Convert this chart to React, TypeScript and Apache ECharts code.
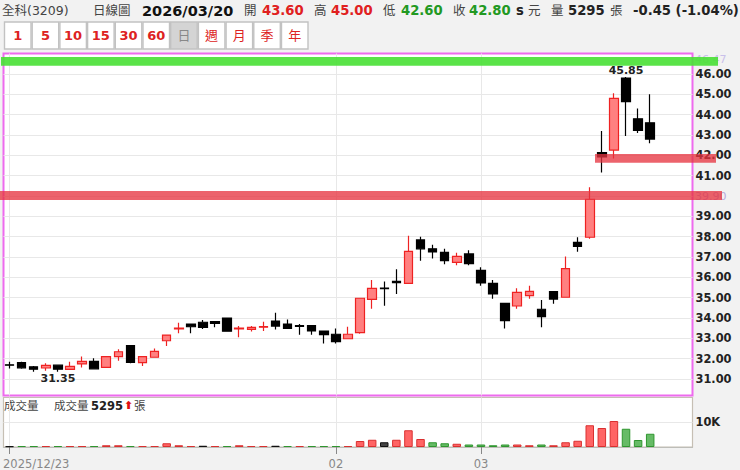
import React, { useEffect, useRef } from "react";
import * as echarts from "echarts";

// trading days, last three slots are the empty room on the right of the chart
const days = [
  "2025/12/23", "12/24", "12/25", "12/26", "12/29", "12/30", "12/31", "01/02", "01/05", "01/06",
  "01/07", "01/08", "01/09", "01/12", "01/13", "01/14", "01/15", "01/16", "01/19", "01/20",
  "01/21", "01/22", "01/23", "01/26", "01/27", "01/28", "01/29", "02", "02/03", "02/04",
  "02/05", "02/06", "02/09", "02/10", "02/11", "02/23", "02/24", "02/25", "02/26", "03",
  "03/03", "03/04", "03/05", "03/06", "03/09", "03/10", "03/11", "03/12", "03/13", "03/16",
  "03/17", "03/18", "03/19", "03/20", "", "", "",
];
const opens = [
  31.7, 31.8, 31.6, 31.54, 31.68, 31.47, 31.74, 31.87, 31.57, 32.1,
  32.64, 31.8, 32.07, 32.88, 33.46, 33.7, 33.79, 33.82, 34.0, 33.46,
  33.44, 33.55, 33.85, 33.7, 33.62, 33.62, 33.36, 33.2, 32.98, 33.28,
  34.92, 35.47, 35.8, 35.7, 37.84, 37.4, 37.23, 36.74, 37.15, 36.34,
  35.7, 34.72, 34.59, 35.1, 34.43, 35.3, 35.02, 37.72, 37.97, 42.13,
  42.26, 45.8, 43.8, 43.6,
];
const closes = [
  31.68, 31.55, 31.48, 31.67, 31.48, 31.62, 31.87, 31.5, 32.1, 32.34,
  31.82, 32.1, 32.36, 33.16, 33.5, 33.57, 33.54, 33.74, 33.35, 33.5,
  33.54, 33.58, 33.6, 33.49, 33.59, 33.36, 33.18, 32.84, 33.2, 34.97,
  35.46, 35.44, 35.74, 37.28, 37.4, 37.25, 36.82, 37.03, 36.67, 35.72,
  35.18, 33.87, 35.26, 35.31, 34.07, 34.93, 36.43, 37.52, 39.84, 41.92,
  44.8, 44.64, 43.23, 42.8,
];
const lows = [
  31.52, 31.5, 31.36, 31.41, 31.35, 31.47, 31.56, 31.48, 31.55, 31.9,
  31.78, 31.64, 32.07, 32.62, 33.25, 33.25, 33.46, 33.54, 33.33, 33.05,
  33.33, 33.36, 33.44, 33.49, 33.18, 33.18, 32.75, 32.74, 32.98, 33.23,
  34.46, 34.6, 35.18, 35.7, 36.82, 36.93, 36.64, 36.6, 36.59, 35.59,
  34.95, 33.48, 34.46, 34.95, 33.54, 34.7, 35.02, 37.26, 37.9, 41.15,
  41.84, 42.95, 43.1, 42.6,
];
const highs = [
  31.85, 31.85, 31.64, 31.77, 31.68, 31.85, 32.1, 32.02, 32.1, 32.46,
  32.64, 32.12, 32.5, 33.18, 33.77, 33.72, 33.9, 33.82, 34.0, 33.6,
  33.6, 33.82, 34.26, 33.93, 33.7, 33.62, 33.36, 33.48, 33.57, 34.97,
  35.87, 35.8, 36.4, 38.05, 38.0, 37.6, 37.4, 37.21, 37.33, 36.49,
  35.87, 34.75, 35.46, 35.59, 34.89, 35.33, 37.02, 37.97, 40.43, 43.2,
  45.05, 45.85, 44.3, 45.0,
];
const volumes = [
  300, 400, 400, 400, 400, 400, 400, 400, 700, 700,
  400, 400, 400, 1500, 700, 400, 500, 400, 400, 700,
  400, 400, 500, 400, 400, 400, 400, 400, 400, 2400,
  2900, 1900, 2900, 6700, 3200, 1900, 1500, 1300, 1000, 1000,
  700, 1000, 1000, 700, 1000, 700, 1900, 2500, 8700, 7600,
  10400, 7300, 2800, 5295,
];
// r = up, g = down, k = flat, as coloured in the volume panel
const volumeTones = [
  "k", "g", "g", "r", "g", "r", "r", "g", "r", "r",
  "g", "r", "r", "r", "r", "r", "k", "r", "g", "r",
  "r", "r", "k", "g", "r", "g", "g", "g", "r", "r",
  "r", "k", "r", "r", "r", "g", "g", "r", "g", "g",
  "g", "g", "r", "r", "g", "r", "r", "r", "r", "r",
  "r", "g", "g", "g",
];
const toneFill: Record<string, string> = { r: "#ff6464", g: "#66bb66", k: "#444444" };
const toneEdge: Record<string, string> = { r: "#d93030", g: "#2f962f", k: "#111111" };

const priceTicks = [31, 32, 33, 34, 35, 36, 37, 38, 39, 40, 41, 42, 43, 44, 45, 46];
const volumeTicks = [10000];
const markedDays = [0, 27, 39];

// horizontal zones: [top price, bottom price]
const zones = [
  [46.84, 46.4],
  [40.25, 39.8],
  [42.07, 41.64],
];
const zoneColors = ["rgba(72,224,52,0.9)", "rgba(230,50,62,0.76)", "rgba(230,50,62,0.76)"];
const zoneEnds = [[1, 718], [0, 722], [595, 716]];

const headerTexts: Array<[string, number, string, boolean]> = [
  ["全科(3209)", 2, "#444", false],
  ["日線圖", 93, "#444", false],
  ["2026/03/20", 142, "#111", true],
  ["開", 244, "#444", false],
  ["43.60", 262, "#e02020", true],
  ["高", 314, "#444", false],
  ["45.00", 331, "#e02020", true],
  ["低", 383, "#444", false],
  ["42.60", 401, "#229922", true],
  ["收", 453, "#444", false],
  ["42.80", 469, "#229922", true],
  ["s", 516, "#222", true],
  ["元", 528, "#444", false],
  ["量", 551, "#444", false],
  ["5295", 568, "#222", true],
  ["張", 610, "#444", false],
  ["-0.45 (-1.04%)", 633, "#222", true],
];
const buttons = ["1", "5", "10", "15", "30", "60", "日", "週", "月", "季", "年"];

const FONT = '"DejaVu Sans", "Noto Sans CJK TC", sans-serif';

const txt = (text: string, x: number, y: number, size: number, fill: string, bold = false, align = "left") => ({
  type: "text",
  x,
  y,
  silent: true,
  style: {
    text,
    fill,
    align,
    verticalAlign: "middle",
    fontFamily: FONT,
    fontSize: size,
    fontWeight: bold ? "bold" : "normal",
  },
});

const buttonGraphics = () =>
  buttons.flatMap((b, i) => {
    const x = 4.5 + i * 27.7;
    const active = b === "日";
    const isDigit = /\d/.test(b);
    return [
      {
        type: "rect",
        silent: true,
        shape: { x, y: 22, width: 26.5, height: 27 },
        style: { fill: active ? "#d4d4d4" : "#fff", stroke: "#c2c2c2", lineWidth: 1.4 },
      },
      txt(b, x + 13.2, 35.5, 13, active ? "#888" : "#dd2222", isDigit, "center"),
    ];
  });

const App: React.FC = () => {
  const chartRef = useRef<HTMLDivElement | null>(null);

  useEffect(() => {
    if (!chartRef.current) return;
    const chart = echarts.init(chartRef.current, undefined, { renderer: "svg" });
    chart.setOption({
      animation: false,
      backgroundColor: "#f2f2f2",
      grid: [
        {
          left: 3.5,
          width: 689,
          top: 53.5,
          height: 342,
          show: true,
          backgroundColor: "#fff",
          borderColor: "#ee6aee",
          borderWidth: 2,
        },
        {
          left: 3.5,
          width: 689,
          top: 397.5,
          height: 49.5,
          show: true,
          backgroundColor: "#fff",
          borderColor: "#c6bfb4",
          borderWidth: 1.2,
        },
      ],
      xAxis: [
        {
          type: "category",
          gridIndex: 0,
          data: days,
          axisLine: { show: false },
          axisTick: { show: false },
          axisLabel: { show: false },
          splitLine: {
            show: true,
            alignWithLabel: true,
            interval: (i: number) => markedDays.includes(i),
            lineStyle: { color: "#e8e8e8", width: 1 },
          },
        },
        {
          type: "category",
          gridIndex: 1,
          data: days,
          axisLine: { show: true, onZero: false, lineStyle: { color: "#bdbdb8", width: 1.2 } },
          axisTick: {
            show: true,
            alignWithLabel: true,
            length: 7,
            interval: (i: number) => markedDays.includes(i),
            lineStyle: { color: "#888" },
          },
          axisLabel: {
            interval: (i: number) => markedDays.includes(i) && i > 0,
            color: "#888",
            fontFamily: FONT,
            fontSize: 11.5,
            margin: 11,
          },
          splitLine: {
            show: true,
            alignWithLabel: true,
            interval: (i: number) => markedDays.includes(i),
            lineStyle: { color: "#e8e8e8", width: 1 },
          },
        },
      ],
      yAxis: [
        {
          type: "value",
          gridIndex: 0,
          position: "right",
          min: 30.188,
          max: 47.008,
          axisLine: { show: false },
          axisTick: { show: false, customValues: priceTicks },
          axisLabel: {
            customValues: priceTicks,
            // the 40 label sits behind the red zone in the original, unreadable
            formatter: (v: number) => (v === 40 ? "" : v.toFixed(2)),
            color: "#222",
            fontFamily: FONT,
            fontWeight: "bold",
            fontSize: 11.4,
            margin: 3,
          },
          splitLine: { show: true, lineStyle: { color: "#e8e8e8", width: 1 } },
        },
        {
          type: "value",
          gridIndex: 1,
          position: "right",
          min: 0,
          max: 19800,
          axisLine: { show: false },
          axisTick: { show: false, customValues: volumeTicks },
          axisLabel: {
            customValues: volumeTicks,
            formatter: () => "10K",
            color: "#222",
            fontFamily: FONT,
            fontWeight: "bold",
            fontSize: 11.4,
            margin: 3,
          },
          splitLine: { show: true, lineStyle: { color: "#e8e8e8", width: 1 } },
        },
      ],
      series: [
        {
          type: "candlestick",
          xAxisIndex: 0,
          yAxisIndex: 0,
          barWidth: 9,
          data: opens.map((o, i) => [o, closes[i], lows[i], highs[i]]),
          itemStyle: {
            color: "#ff8080",
            color0: "#000",
            borderColor: "#ee2222",
            borderColor0: "#000",
            borderWidth: 1.2,
          },
          markPoint: {
            symbol: "circle",
            symbolSize: 0,
            label: {
              show: true,
              color: "#222",
              fontFamily: FONT,
              fontWeight: "bold",
              fontSize: 11,
              formatter: "{b}",
            },
            data: [
              { name: "45.85", coord: [51, 45.85], label: { position: "top", distance: 1 } },
              { name: "31.35", coord: [4, 31.35], label: { position: "bottom", distance: 1 } },
            ],
          },
        },
        {
          type: "custom",
          xAxisIndex: 0,
          yAxisIndex: 0,
          z: 6,
          silent: true,
          data: zones.map((z, i) => [i, z[0], z[1]]),
          encode: { x: 0, y: [1, 2] },
          renderItem: (params: any, api: any) => {
            const top = api.coord([0, api.value(1)])[1];
            const bottom = api.coord([0, api.value(2)])[1];
            const [x0, x1] = zoneEnds[params.dataIndex];
            return {
              type: "rect",
              shape: { x: x0, y: top, width: x1 - x0, height: bottom - top },
              style: { fill: zoneColors[params.dataIndex] },
            };
          },
        },
        {
          type: "bar",
          xAxisIndex: 1,
          yAxisIndex: 1,
          barWidth: 8.5,
          data: volumes.map((v, i) => ({
            value: v,
            itemStyle: {
              color: toneFill[volumeTones[i]],
              borderColor: toneEdge[volumeTones[i]],
              borderWidth: 1,
            },
          })),
        },
      ],
      graphic: [
        ...headerTexts.map(([text, x, color, bold]) =>
          txt(text, x, 10.5, bold ? (text.includes("/") ? 14.5 : 13.2) : 12.5, color, bold)
        ),
        ...buttonGraphics(),
        txt("46.47", 695, 59, 11, "#c9c0ea"),
        txt("39.90", 695, 196, 11, "#b7a8dc"),
        txt("成交量", 4, 406, 11.5, "#444"),
        txt("成交量", 54, 406, 11.5, "#444"),
        txt("5295", 91, 406, 11.5, "#222", true),
        txt("⬆", 124, 405.5, 11, "#e01010", true),
        txt("張", 134, 406, 11.5, "#444"),
        txt("2025/12/23", 3, 464, 11.5, "#888"),
      ],
    });
    return () => chart.dispose();
  }, []);

  return <div ref={chartRef} style={{ position: "fixed", left: 0, top: 0, width: 740, height: 470 }} />;
};

export default App;
